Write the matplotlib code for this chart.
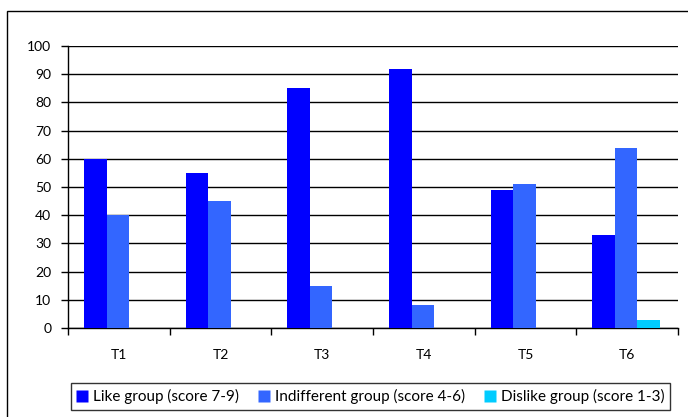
import numpy as np
import matplotlib
matplotlib.use("Agg")
import matplotlib.pyplot as plt
from matplotlib.patches import Rectangle
from matplotlib.lines import Line2D

plt.rcParams['font.family'] = ['Lato', 'DejaVu Sans']

categories = ["T1", "T2", "T3", "T4", "T5", "T6"]
like = [60, 55, 85, 92, 49, 33]
indifferent = [40, 45, 15, 8, 51, 64]
dislike = [0, 0, 0, 0, 0, 3]
series_names = ["Like group (score 7-9)", "Indifferent group (score 4-6)",
                "Dislike group (score 1-3)"]
colors = ["#0000FF", "#3366FF", "#00CCFF"]

W, H = 688, 417
fig = plt.figure(figsize=(W / 100, H / 100), dpi=100)
ax = fig.add_axes([68 / W, 1 - 328 / H, (678 - 68) / W, (328 - 46) / H])

# outer chart frame (top and left edges visible)
fig.add_artist(Rectangle((7 / W, -0.1), 1.2, 1 - 11 / H + 0.1,
                         transform=fig.transFigure, fill=False,
                         edgecolor="black", linewidth=1.0))

x = np.arange(len(categories))
bw = 1 / 4.5
for i, (vals, col) in enumerate(zip([like, indifferent, dislike], colors)):
    vals = np.array(vals, dtype=float)
    mask = vals > 0
    ax.bar(x[mask] + (i - 1) * bw - 0.01, vals[mask], width=bw, color=col,
           edgecolor="none", zorder=3)

ax.set_xlim(-0.5, len(categories) - 0.5)
ax.set_ylim(0, 100)
ax.set_yticks(np.arange(0, 101, 10))
ax.yaxis.grid(True, color="black", linewidth=1.0, zorder=0)
ax.set_axisbelow(True)

ax.set_xticks(np.arange(-0.5, len(categories), 1.0))
ax.set_xticklabels([])
ax.set_xticks(x, minor=True)
ax.set_xticklabels(categories, minor=True)
ax.tick_params(axis="x", which="major", direction="out", length=5, width=1, color="black")
ax.tick_params(axis="x", which="minor", length=0, pad=15, labelsize=10)
ax.tick_params(axis="y", direction="out", length=5, width=1, pad=7, labelsize=10)

for s in ["top", "right"]:
    ax.spines[s].set_visible(False)
for s in ["left", "bottom"]:
    ax.spines[s].set_linewidth(1.0)
    ax.spines[s].set_color("black")

handles = [Line2D([], [], marker="s", linestyle="none", markersize=8,
                  markerfacecolor=c, markeredgecolor="none") for c in colors]
leg = fig.legend(handles, series_names, loc="center",
                 bbox_to_anchor=(370.5 / W, 1 - 396.5 / H), ncol=3,
                 frameon=True, fancybox=False, edgecolor="black",
                 fontsize=11, handlelength=0.72, handletextpad=0.33,
                 columnspacing=1.3, borderpad=0.4, borderaxespad=0)
leg.get_frame().set_linewidth(1.0)

fig.savefig("out.png", dpi=100)
